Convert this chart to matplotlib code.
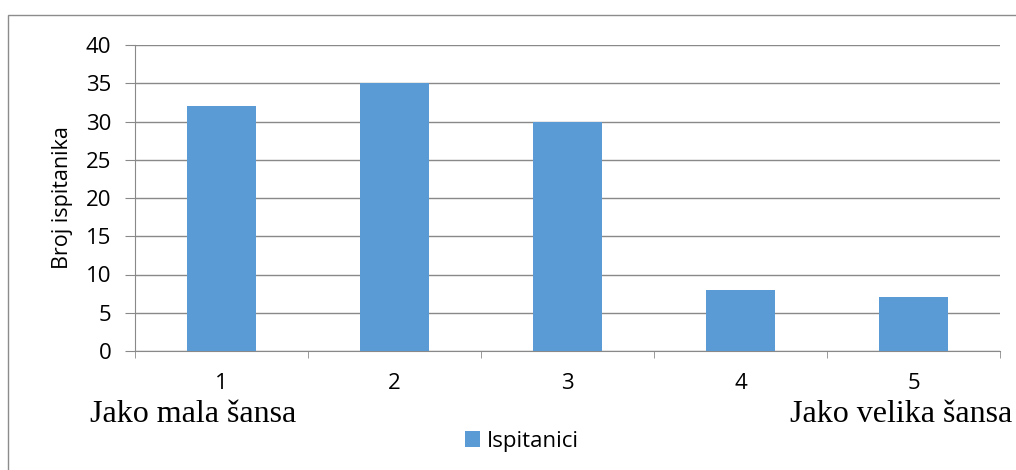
import numpy as np
import matplotlib
matplotlib.use('Agg')
import matplotlib.pyplot as plt
from matplotlib.patches import Rectangle

# ── Data ───────────────────────────────────────────────────────────────────
categories = ["1", "2", "3", "4", "5"]
values     = [32, 35, 30, 8, 7]
series     = "Ispitanici"

BAR_COLOR  = "#5B9BD5"
GRID_COLOR = "#898989"
SANS = ["Open Sans", "DejaVu Sans"]

fig = plt.figure(figsize=(10.16, 4.7), dpi=100)
ax = fig.add_axes([135/1016, 1 - 351/470, 865/1016, 306/470])

x = np.arange(len(categories))
ax.bar(x, values, width=0.4, color=BAR_COLOR, label=series, zorder=3)

ax.set_xlim(-0.5, len(categories) - 0.5)
ax.set_ylim(0, 40)
ax.set_yticks(np.arange(0, 41, 5))
ax.set_xticks(x)
ax.set_xticklabels(categories)
ax.set_xticks(np.arange(-0.5, len(categories)), minor=True)

ax.yaxis.grid(True, color=GRID_COLOR, linewidth=1.0, zorder=0)
ax.set_axisbelow(True)
for side in ["top", "right"]:
    ax.spines[side].set_visible(False)
ax.spines["left"].set_color(GRID_COLOR)
ax.spines["bottom"].set_color(GRID_COLOR)

ax.tick_params(axis="y", length=7, color=GRID_COLOR, labelsize=16, pad=10)
ax.tick_params(axis="x", which="major", length=0, labelsize=16, pad=16)
ax.tick_params(axis="x", which="minor", length=5, color=GRID_COLOR)
for lab in ax.get_xticklabels() + ax.get_yticklabels():
    lab.set_family(SANS)

ax.set_ylabel("Broj ispitanika", fontsize=15.5, family=SANS, labelpad=9)

# scale end labels
fig.text(90/1016, 1 - 422/470, "Jako mala šansa", family="Liberation Serif",
         fontsize=23, ha="left", va="baseline")
fig.text(1012/1016, 1 - 422/470, "Jako velika šansa", family="Liberation Serif",
         fontsize=23, ha="right", va="baseline")

leg = fig.legend(loc="center", bbox_to_anchor=(522/1016, 1 - 441/470),
                 frameon=False, prop={"family": SANS, "size": 16},
                 handlelength=0.7, handleheight=0.7, handletextpad=0.3)

# outer chart border
fig.patches.append(Rectangle((8/1016, -0.1), 1.2, 1 - 15/470 + 0.1,
                             transform=fig.transFigure, fill=False,
                             edgecolor="#8c8c8c", linewidth=1.0))

fig.savefig("out.png", dpi=100)
